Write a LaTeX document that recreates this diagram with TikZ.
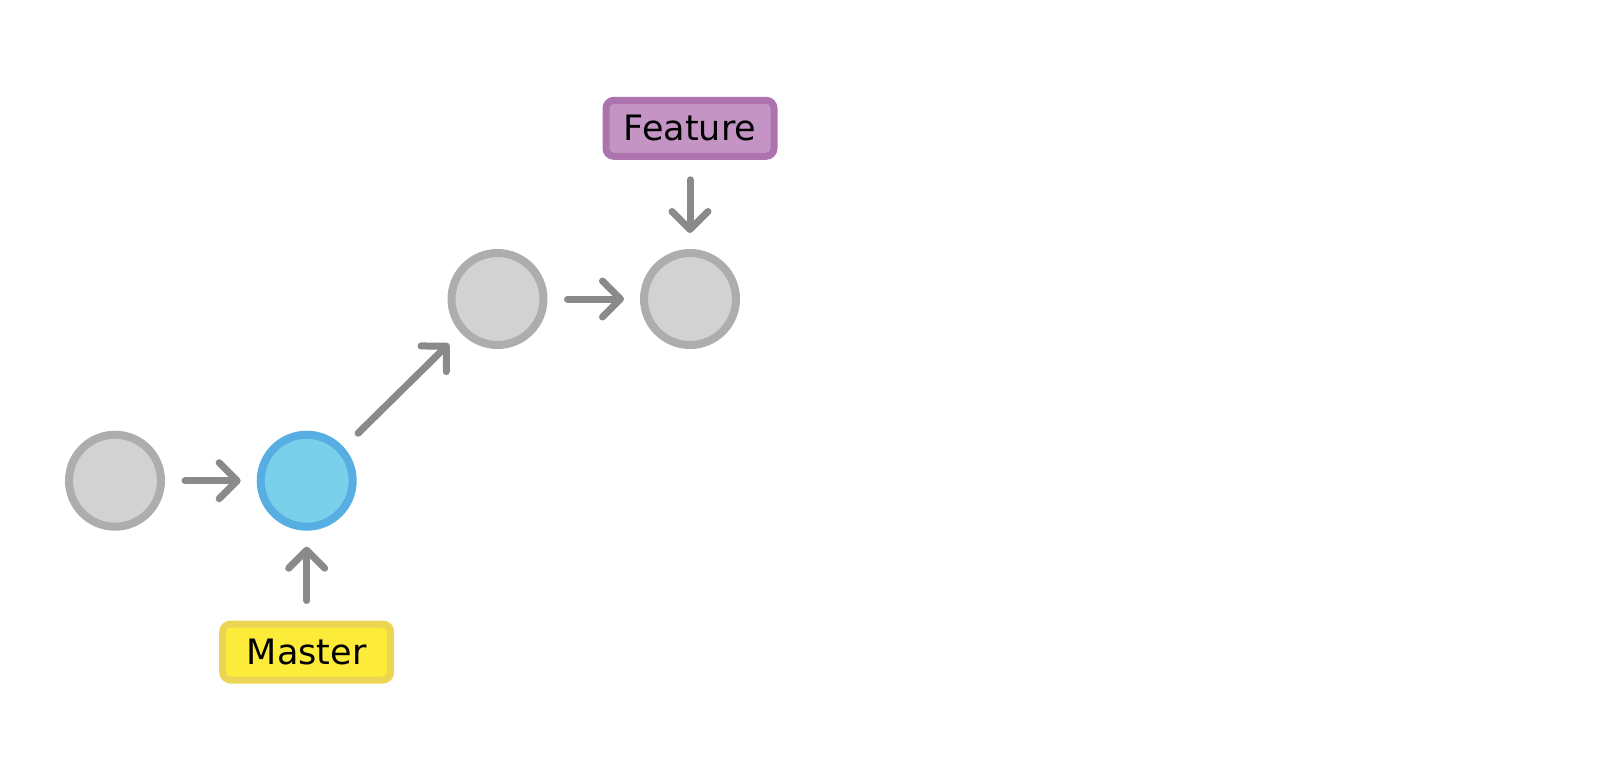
\documentclass[tikz,border=0pt]{standalone}
\usepackage{fontspec}
\setmainfont{DejaVu Sans}
\usetikzlibrary{arrows.meta}
\definecolor{cgfill}{HTML}{D1D2D1}
\definecolor{cgline}{HTML}{ADADAD}
\definecolor{cbfill}{HTML}{7AD0EB}
\definecolor{cbline}{HTML}{56AEE2}
\definecolor{carrow}{HTML}{8A8A8A}
\definecolor{cmfill}{HTML}{FCEB39}
\definecolor{cmline}{HTML}{EDD554}
\definecolor{cffill}{HTML}{C495C4}
\definecolor{cfline}{HTML}{AC73AF}
\begin{document}
\begin{tikzpicture}[x=0.5pt,y=-0.5pt,
  commit/.style={circle,minimum size=46pt,inner sep=0pt,line width=4pt,draw=cgline,fill=cgfill},
  headcommit/.style={commit,draw=cbline,fill=cbfill},
  branchlabel/.style={rounded corners=4pt,minimum width=84pt,minimum height=28pt,inner sep=0pt,line width=3.5pt,font=\fontsize{17.5pt}{21pt}\selectfont},
  link/.style={draw=carrow,line width=3.5pt,line cap=round,-{Straight Barb[length=9pt,width=18pt,round]},shorten <=10pt,shorten >=8pt}]
\fill[white] (0,0) rectangle (1609,781);
\node[commit] (c1) at (115,480.7) {};
\node[headcommit] (c2) at (306.7,480.7) {};
\node[commit] (c3) at (497.5,299) {};
\node[commit] (c4) at (690,299) {};
\node[branchlabel,draw=cmline,fill=cmfill] (master) at (306.7,652) {Master};
\node[branchlabel,draw=cfline,fill=cffill] (feature) at (690,128.3) {Feature};
\draw[link] (c1) -- (c2);
\draw[link] (c2.42) -- (c3.222);
\draw[link] (c3) -- (c4);
\draw[link] (master) -- (c2);
\draw[link] (feature) -- (c4);
\end{tikzpicture}
\end{document}
